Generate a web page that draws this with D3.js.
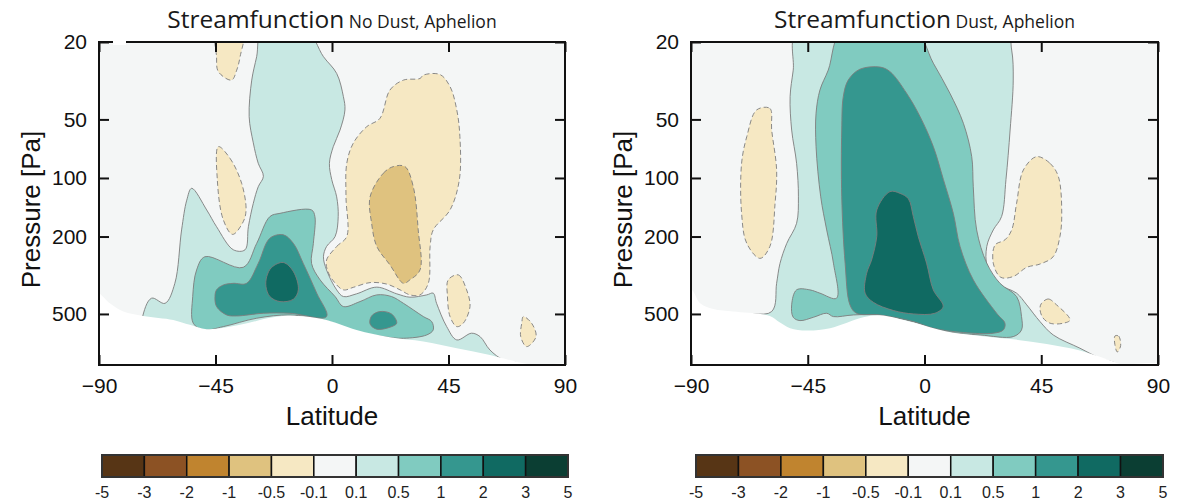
<!DOCTYPE html>
<html><head><meta charset="utf-8">
<script src="https://cdn.jsdelivr.net/npm/d3@7"></script>
<style>body{margin:0;background:#fff}</style>
</head><body>
<svg id="chart" width="1177" height="503" xmlns="http://www.w3.org/2000/svg"></svg>
<script>
// ---------- scale / legend data ----------
const levels = ["-5","-3","-2","-1","-0.5","-0.1","0.1","0.5","1","2","3","5"];
const levelColors = ["#573515","#8c5224","#c0842f","#dfc27f","#f6e8c3","#f4f6f6","#c8e8e3","#80cbc0","#35978f","#106a62","#0b3e33"];
const latTicks = [-90, -45, 0, 45, 90];
const pressureTicks = [20, 50, 100, 200, 500];
const pressureDomain = [20, 915];

// ---------- No Dust, Aphelion: contour regions as [latitude, pressure Pa] ----------
const noDustGround = [[-92,385],[-90,391],[-85.8,441],[-80.6,486],[-72.9,512],[-61.3,537],[-54.9,569],[-48.4,599],[-35.5,569],[-22.7,520],[-13.6,512],[-3.3,532],[9.5,604],[22.4,659],[35.3,693],[48.2,750],[61.0,812],[73.9,896],[80,912],[92,920],[92,1100],[-92,1100]];
const noDustPos01 = [[-73.5,537],[-69.7,415],[-64.5,441],[-60.7,348],[-58.1,185],[-56.1,130],[-54.2,113],[-48.4,146],[-44.6,178],[-38.1,234],[-33.6,234],[-32.3,178],[-30.4,135],[-28.5,111],[-26.5,98],[-28.5,84],[-30.4,66],[-32.0,48.4],[-31.0,31.4],[-29.1,23.8],[-26.8,17],[-10.4,17],[-3.3,23.8],[1.8,29.0],[4.4,38.2],[5.0,44.7],[3.1,56.7],[0.5,69.0],[-1.0,84.1],[-0.1,102],[1.8,125],[2.4,158],[1.2,200],[-2.1,225],[-3.3,254],[-2.1,297],[1.8,376],[4.4,407],[9.5,394],[17.3,364],[25.0,394],[30.1,410],[36.6,399],[39.1,391],[40.4,441],[44.3,581],[48.2,680],[53.9,628],[57.2,654],[61.0,766],[66.2,862],[72.6,905],[75,1050],[-75,1050]];
const noDustPos05 = [[-49.1,254],[-34.3,288],[-29.1,217],[-24.0,158],[-20.1,152],[-7.9,146],[-6.6,158],[-7.2,217],[-7.9,275],[-4.6,334],[1.2,407],[4.4,458],[10.8,432],[17.3,399],[23.0,407],[27.6,441],[35.3,516],[38.5,547],[39.1,604],[36.6,641],[27.6,667],[19.8,654],[9.5,616],[-3.3,537],[-16.2,506],[-29.1,526],[-42.0,581],[-49.7,604],[-53.6,558],[-53.8,407],[-52.3,297]];
const noDustPos1a = [[-44.6,376],[-42.0,355],[-38.1,348],[-33.0,348],[-28.5,275],[-24.0,204],[-18.8,196],[-14.9,217],[-11.1,275],[-5.9,391],[-2.1,516],[-16.2,496],[-26.5,496],[-36.8,512],[-40.7,506],[-44.6,458],[-45.2,407]];
const noDustPos1b = [[15.3,512],[18.5,486],[23.0,500],[25.0,558],[22.4,585],[17.3,599],[14.7,563]];
const noDustPos2 = [[-25.2,321],[-23.3,288],[-18.8,272],[-14.9,303],[-13.0,376],[-14.9,420],[-20.1,432],[-24.0,407],[-25.5,362]];
const noDustNeg01a = [[-44.6,17],[-34.3,17],[-35.5,23.8],[-36.8,27.9],[-38.8,31.4],[-43.9,28.4],[-44.6,23.8]];
const noDustNeg01b = [[-43.9,69],[-39.4,79.2],[-34.9,106.5],[-33.2,146],[-34.3,168],[-38.4,195],[-42.0,164],[-44.3,102]];
const noDustNeg01c = [[-2.1,264],[1.8,225],[5.7,200],[5.4,125],[5.7,84.1],[8.2,66.3],[13.4,54.5],[18.5,49.4],[22.4,35.3],[27.6,31.4],[34.0,30.8],[35.3,29.6],[41.7,29.4],[45.6,33.9],[48.2,44.7],[49.4,61.3],[49.2,102],[45.6,146],[39.1,185],[37.9,225],[37.2,348],[34.0,399],[30.1,399],[26.3,376],[21.1,351],[14.7,345],[8.2,365],[4.4,376],[0.5,338],[-1.8,297]];
const noDustNeg01d = [[44.9,334],[48.8,315],[52.0,376],[53.3,458],[50.7,558],[48.2,581],[45.6,516],[44.6,407]];
const noDustNeg01e = [[73.9,516],[77.1,558],[78.8,654],[75.2,736],[72.9,654],[73.3,558]];
const noDustNeg05 = [[14.7,125],[19.8,94.6],[23.7,87.4],[28.2,87.4],[31.4,111],[33.3,185],[34.0,297],[30.1,334],[27.6,348],[22.4,280],[17.3,225],[15.3,171]];

// ---------- Dust, Aphelion ----------
const dustGround = [[-92,370],[-89.7,376],[-86.5,441],[-81.4,472],[-73.7,486],[-59.6,512],[-55.7,554],[-51.8,592],[-45.4,609],[-36.4,592],[-23.6,520],[-17.2,508],[-4.3,554],[8.5,616],[21.4,649],[34.2,675],[47.1,713],[59.9,771],[72.8,879],[75.3,905],[92,920],[92,1100],[-92,1100]];
const dustPos01 = [[-73.7,520],[-58.9,486],[-57.0,348],[-55.7,275],[-53.1,217],[-49.3,171],[-48.6,125],[-49.3,84.1],[-51.2,56.7],[-51.8,38.2],[-50.6,27.9],[-48.6,17],[31.0,17],[33.6,22.0],[34.2,31.4],[33.0,56.7],[31.4,102],[29.7,158],[26.5,185],[24.0,225],[24.2,286],[28.4,350],[35.5,391],[39.4,449],[44.5,547],[49.6,641],[59.9,750],[67.6,845],[74.0,905],[76,1050],[-74,1050]];
const dustPos05 = [[-31.3,17],[-4.3,17],[3.4,25.7],[9.8,36.7],[15.0,52.4],[18.2,77.7],[18.8,111],[20.1,185],[24.0,274],[29.1,348],[35.5,407],[37.4,516],[37.4,604],[34.2,654],[21.4,641],[8.5,616],[-4.3,547],[-17.2,506],[-27.4,506],[-35.1,516],[-37.7,496],[-42.8,520],[-48.0,541],[-50.6,520],[-51.2,449],[-49.3,376],[-44.2,376],[-40.3,391],[-33.9,415],[-35.1,274],[-37.7,185],[-40.0,125],[-41.8,69],[-41.8,46.5],[-40.3,35.3],[-37.1,27.9]];
const dustPos1 = [[-28.7,450],[-30.6,274],[-31.9,125],[-31.9,56.7],[-31.3,38.2],[-29.4,31.4],[-24.9,27.6],[-17.2,26.9],[-13.3,28.4],[-6.9,36.7],[-1.7,48.4],[3.4,69],[7.3,102],[11.1,152],[13.7,225],[18.8,334],[27.8,496],[31.0,558],[30.4,604],[26.5,628],[15.0,623],[3.4,592],[-4.3,547],[-17.2,506],[-26.2,496]];
const dustPos2 = [[-18.4,146],[-13.3,117.5],[-9.4,120],[-6.2,128],[-4.3,158],[-2.4,200],[0.8,274],[3.4,376],[7.2,458],[4.0,496],[-4.3,500],[-12.0,480],[-19.7,436],[-22.9,391],[-22.3,309],[-20.4,264],[-18.4,200]];
const dustNeg01a = [[-64.7,44.7],[-59.6,43.9],[-58.9,56.7],[-57.0,91],[-57.6,135],[-59.6,225],[-63.4,259],[-68.5,217],[-70.5,152],[-70.5,84.1],[-68.5,61.3]];
const dustNeg01b = [[43.2,77.7],[48.4,84.1],[51.6,98.4],[52.9,152],[52.2,200],[49.6,254],[44.5,277],[39.4,288],[34.2,321],[29.4,324],[26.5,274],[27.2,221],[31.0,208],[33.6,185],[35.5,135],[38.1,91]];
const dustNeg01c = [[45.1,441],[47.7,419],[50.9,449],[56.1,537],[53.5,558],[48.4,558],[45.5,520],[44.5,467]];
const dustNeg01d = [[73.4,649],[74.8,649],[75.6,728],[74.3,784],[73.4,720]];

const panels = [
  { title: "Streamfunction", sub: "No Dust, Aphelion", x0: 99, x1: 565, top: 42, bottom: 365, labelX: 40, cbX0: 102, cbX1: 568,
    ground: noDustGround,
    regions: [
      {band: 6, pts: noDustPos01}, {band: 7, pts: noDustPos05}, {band: 8, pts: noDustPos1a}, {band: 8, pts: noDustPos1b},
      {band: 9, pts: noDustPos2}, {band: 4, pts: noDustNeg01a}, {band: 4, pts: noDustNeg01b}, {band: 4, pts: noDustNeg01c},
      {band: 4, pts: noDustNeg01d}, {band: 4, pts: noDustNeg01e}, {band: 3, pts: noDustNeg05}
    ] },
  { title: "Streamfunction", sub: "Dust, Aphelion", x0: 691, x1: 1158, top: 42, bottom: 365, labelX: 632, cbX0: 696, cbX1: 1163,
    ground: dustGround,
    regions: [
      {band: 6, pts: dustPos01}, {band: 7, pts: dustPos05}, {band: 8, pts: dustPos1}, {band: 9, pts: dustPos2},
      {band: 4, pts: dustNeg01a}, {band: 4, pts: dustNeg01b}, {band: 4, pts: dustNeg01c}, {band: 4, pts: dustNeg01d}
    ] }
];

const svg = d3.select("#chart");
const sans = "'Liberation Sans', Arial, sans-serif";

panels.forEach((P, i) => {
  const x = d3.scaleLinear().domain([-90, 90]).range([P.x0, P.x1]);
  const y = d3.scaleLog().domain(pressureDomain).range([P.top, P.bottom]);
  const g = svg.append("g");
  const clipId = "clip" + i;
  svg.append("defs").append("clipPath").attr("id", clipId)
    .append("rect").attr("x", P.x0).attr("y", P.top).attr("width", P.x1 - P.x0).attr("height", P.bottom - P.top);

  const plot = g.append("g").attr("clip-path", `url(#${clipId})`);
  plot.append("rect").attr("x", P.x0).attr("y", P.top).attr("width", P.x1 - P.x0).attr("height", P.bottom - P.top)
    .attr("fill", levelColors[5]);

  const line = d3.line().x(d => x(d[0])).y(d => y(d[1])).curve(d3.curveCatmullRomClosed.alpha(0.5));
  plot.selectAll("path.region").data(P.regions).join("path").attr("class", "region")
    .attr("d", d => line(d.pts))
    .attr("fill", d => levelColors[d.band])
    .attr("stroke", "#7d7d7d").attr("stroke-width", 0.9)
    .attr("stroke-dasharray", d => d.band < 5 ? "5,3" : null);

  plot.append("path").attr("d", line(P.ground)).attr("fill", "#ffffff").attr("stroke", "none");

  // axes (inward ticks)
  const xb = d3.axisBottom(x).tickValues(latTicks).tickSize(-10).tickPadding(13).tickFormat(d3.format("d"));
  const xt = d3.axisTop(x).tickValues(latTicks).tickSize(-10).tickFormat("");
  const yl = d3.axisLeft(y).tickValues(pressureTicks).tickSize(-10).tickPadding(12).tickFormat(d3.format("d"));
  const yr = d3.axisRight(y).tickValues(pressureTicks).tickSize(-10).tickFormat("");
  const styleAxis = sel => {
    sel.select(".domain").remove();
    sel.selectAll(".tick line").attr("stroke", "#111").attr("stroke-width", 2);
    sel.selectAll(".tick text").attr("fill", "#111").style("font-family", sans).style("font-size", "21px");
  };
  g.append("g").attr("transform", `translate(0,${P.bottom})`).call(xb).call(styleAxis);
  g.append("g").attr("transform", `translate(0,${P.top})`).call(xt).call(styleAxis);
  g.append("g").attr("transform", `translate(${P.x0},0)`).call(yl).call(styleAxis);
  g.append("g").attr("transform", `translate(${P.x1},0)`).call(yr).call(styleAxis);

  g.append("rect").attr("x", P.x0).attr("y", P.top).attr("width", P.x1 - P.x0).attr("height", P.bottom - P.top)
    .attr("fill", "none").attr("stroke", "#111").attr("stroke-width", 2);
  if (i === 0) {
    g.append("rect").attr("x", 113).attr("y", 39).attr("width", 13).attr("height", 6).attr("fill", "#fff");
  }

  // titles
  const cx = (P.x0 + P.x1) / 2;
  const t = g.append("text").attr("x", cx).attr("y", 28).attr("text-anchor", "middle")
    .style("font-family", "'Open Sans', 'Noto Sans', sans-serif").attr("fill", "#1a1a1a");
  t.append("tspan").style("font-size", "24.5px").text(P.title);
  t.append("tspan").style("font-size", "17.5px").text(" " + P.sub);

  g.append("text").attr("x", cx).attr("y", 425).attr("text-anchor", "middle")
    .style("font-family", sans).style("font-size", "26px").attr("fill", "#111").text("Latitude");
  g.append("text").attr("transform", `translate(${P.labelX},${(P.top + P.bottom) / 2 + 6}) rotate(-90)`)
    .attr("text-anchor", "middle").style("font-family", sans).style("font-size", "26px").attr("fill", "#111")
    .text("Pressure [Pa]");

  // colour bar
  const cb = d3.scaleBand().domain(d3.range(levelColors.length)).range([P.cbX0, P.cbX1]).padding(0);
  const cbG = g.append("g");
  cbG.selectAll("rect").data(levelColors).join("rect")
    .attr("x", (d, k) => cb(k)).attr("y", 455).attr("width", cb.bandwidth()).attr("height", 22)
    .attr("fill", d => d).attr("stroke", "#111").attr("stroke-width", 1.5);
  cbG.append("rect").attr("x", P.cbX0).attr("y", 455).attr("width", P.cbX1 - P.cbX0).attr("height", 22)
    .attr("fill", "none").attr("stroke", "#333").attr("stroke-width", 2);
  const cbPos = d3.scalePoint().domain(levels).range([P.cbX0, P.cbX1]);
  cbG.selectAll("text").data(levels).join("text")
    .attr("x", d => cbPos(d)).attr("y", 498).attr("text-anchor", "middle")
    .style("font-family", sans).style("font-size", "16px").attr("fill", "#222").text(d => d);
});
</script>
</body></html>
